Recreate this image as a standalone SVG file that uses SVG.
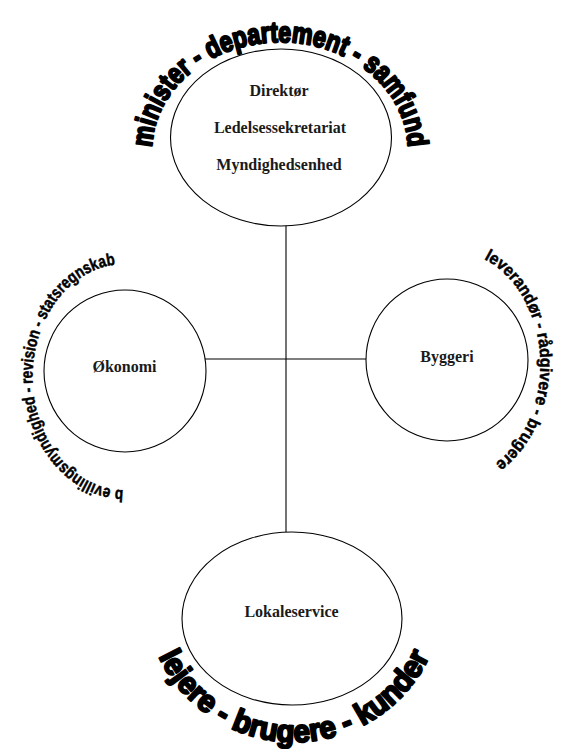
<svg xmlns="http://www.w3.org/2000/svg" width="561" height="749" viewBox="0 0 561 749">
<style>
.node{fill:#fff;stroke:#000;stroke-width:1.1}
.lbl{font-family:"Liberation Serif","Times New Roman",serif;font-weight:bold;font-size:16px;fill:#1a1a1a;text-anchor:middle}
.arc{font-family:"Liberation Sans",Arial,sans-serif;font-weight:bold;fill:#000}
.heavy{stroke:#000;stroke-width:2.2;stroke-linejoin:round}
.side{stroke:#000;stroke-width:0.5}
.conn{stroke:#000;stroke-width:1.1;fill:none}
</style>
<defs>
<path id="pTop" d="M 152,150 A 128,108 0 0 1 408,150"/>
<path id="pBot" d="M 156.5,652 A 150,150 0 0 0 431.5,652"/>
<path id="pLeft" d="M 123.4,490 A 92,113 0 0 1 117,264.4"/>
<path id="pRight" d="M 484,259 A 90,114 0 0 1 493,465"/>
</defs>
<rect width="561" height="749" fill="#fff"/>
<g id="connectors">
<line class="conn" x1="286" y1="225" x2="286" y2="532"/>
<line class="conn" x1="205" y1="359" x2="367" y2="359"/>
</g>
<g id="node-direktor">
<ellipse class="node" cx="281" cy="137.5" rx="110.5" ry="88.5"/>
<text class="lbl" x="279" y="96">Direktør</text>
<text class="lbl" x="280" y="133">Ledelsessekretariat</text>
<text class="lbl" x="279" y="170">Myndighedsenhed</text>
</g>
<g id="node-okonomi">
<circle class="node" cx="125" cy="371" r="81"/>
<text class="lbl" x="124.5" y="372">Økonomi</text>
</g>
<g id="node-byggeri">
<circle class="node" cx="447" cy="360" r="81"/>
<text class="lbl" x="447" y="362">Byggeri</text>
</g>
<g id="node-lokaleservice">
<ellipse class="node" cx="292" cy="618.5" rx="110" ry="86.5"/>
<text class="lbl" x="291.5" y="617">Lokaleservice</text>
</g>
<g id="arc-labels">
<text class="arc heavy" font-size="29"><textPath href="#pTop" startOffset="50%" text-anchor="middle" textLength="366" lengthAdjust="spacingAndGlyphs">minister - departement - samfund</textPath></text>
<text class="arc heavy" font-size="31"><textPath href="#pBot" startOffset="50%" text-anchor="middle" textLength="338" lengthAdjust="spacingAndGlyphs">lejere - brugere - kunder</textPath></text>
<text class="arc side" font-size="17"><textPath href="#pLeft" textLength="312" lengthAdjust="spacingAndGlyphs">b evillingsmyndighed - revision - statsregnskab</textPath></text>
<text class="arc side" font-size="17"><textPath href="#pRight" textLength="238" lengthAdjust="spacingAndGlyphs">leverandør - rådgivere - brugere</textPath></text>
</g>
</svg>
